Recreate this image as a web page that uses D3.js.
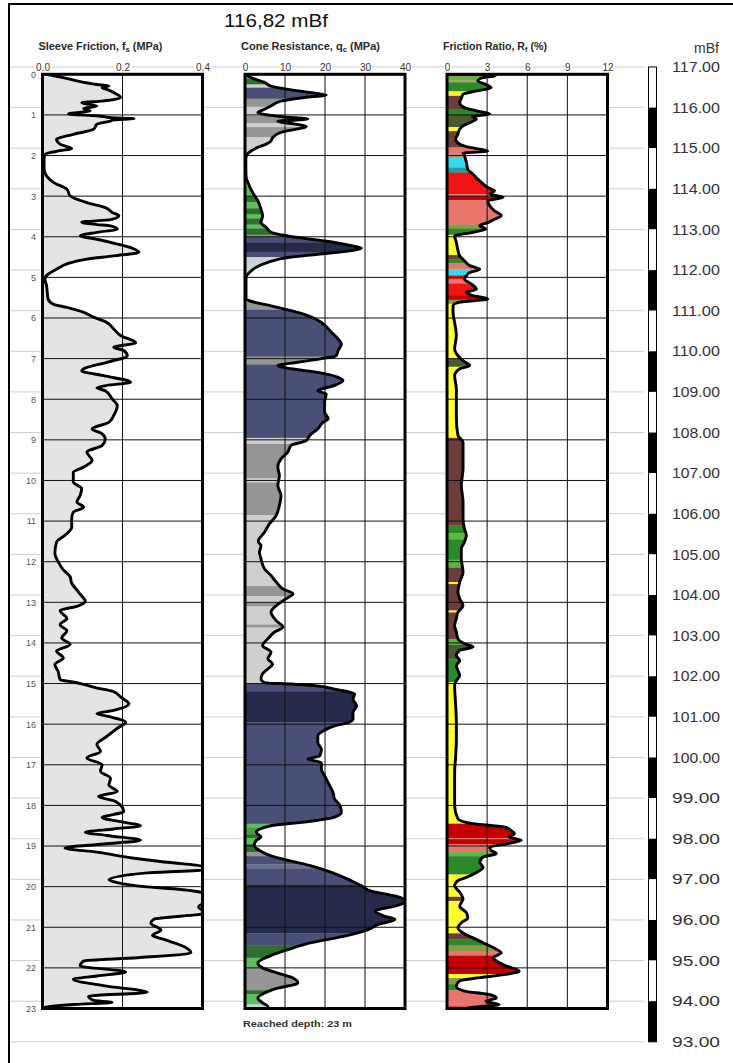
<!DOCTYPE html>
<html>
<head>
<meta charset="utf-8">
<script src="https://cdn.jsdelivr.net/npm/d3@7/dist/d3.min.js"></script>
<style>
  html, body { margin: 0; padding: 0; background: #fff; }
  svg { display: block; font-family: "Liberation Sans", Arial, sans-serif; }
</style>
</head>
<body>
<svg id="chart" width="733" height="1063"></svg>
<script>
// ---- CPT log data (depth in m, value) ----
const groundLevel = 116.82;
const maxDepth = 23;

const fsTicks = [0, 0.2, 0.4];
const qcTicks = [0, 10, 20, 30, 40];
const rfTicks = [0, 3, 6, 9, 12];
const depthTicks = d3.range(0, 24);
const elevTicks = d3.range(117, 92, -1);

// Sleeve friction fs (MPa)
const fsProfile = [
  [0,0.01],[0.08,0.052],[0.16,0.086],[0.25,0.136],[0.29,0.166],[0.33,0.149],[0.37,0.161],[0.45,0.178],
  [0.57,0.195],[0.66,0.149],[0.70,0.098],[0.78,0.136],[0.84,0.103],[0.90,0.119],[0.98,0.065],[1.02,0.136],
  [1.07,0.174],[1.09,0.229],[1.12,0.178],[1.15,0.170],[1.23,0.136],[1.35,0.128],[1.48,0.077],[1.60,0.035],
  [1.72,0.044],[1.83,0.073],[1.88,0.044],[1.97,0.006],[2.09,0.004],[2.34,0.004],[2.50,0.010],[2.66,0.027],
  [2.83,0.061],[2.99,0.069],[3.16,0.111],[3.28,0.157],[3.40,0.174],[3.48,0.191],[3.58,0.170],[3.64,0.098],
  [3.70,0.136],[3.73,0.170],[3.81,0.187],[3.89,0.136],[3.98,0.094],[4.06,0.136],[4.18,0.187],[4.30,0.229],
  [4.38,0.241],[4.47,0.178],[4.55,0.111],[4.67,0.061],[4.80,0.035],[4.92,0.014],[5.04,0.006],[5.20,0.010],
  [5.53,0.014],[5.66,0.027],[5.74,0.061],[5.86,0.103],[5.98,0.128],[6.11,0.161],[6.27,0.178],[6.43,0.195],
  [6.61,0.233],[6.72,0.178],[6.80,0.203],[6.93,0.212],[7.09,0.161],[7.25,0.103],[7.30,0.098],[7.42,0.153],
  [7.58,0.220],[7.66,0.161],[7.72,0.136],[7.79,0.157],[7.99,0.174],[8.16,0.187],[8.40,0.178],[8.57,0.166],
  [8.73,0.124],[8.85,0.149],[8.98,0.157],[9.14,0.149],[9.30,0.111],[9.51,0.124],[9.67,0.103],[9.80,0.077],
  [10.04,0.077],[10.20,0.098],[10.37,0.094],[10.53,0.086],[10.66,0.103],[10.78,0.077],[10.94,0.073],
  [11.15,0.073],[11.31,0.061],[11.52,0.035],[11.80,0.031],[12.00,0.039],[12.20,0.052],[12.37,0.069],
  [12.53,0.073],[12.70,0.086],[12.80,0.094],[12.97,0.107],[13.10,0.086],[13.20,0.044],[13.40,0.061],
  [13.55,0.044],[13.70,0.061],[13.88,0.048],[14.04,0.069],[14.20,0.035],[14.37,0.052],[14.53,0.031],
  [14.70,0.039],[14.90,0.044],[14.98,0.086],[15.10,0.132],[15.20,0.178],[15.33,0.195],[15.50,0.216],
  [15.66,0.178],[15.74,0.136],[15.83,0.174],[15.95,0.208],[16.10,0.187],[16.30,0.161],[16.50,0.136],
  [16.67,0.145],[16.83,0.111],[17.00,0.149],[17.16,0.145],[17.33,0.170],[17.50,0.166],[17.66,0.187],
  [17.78,0.140],[17.90,0.182],[18.15,0.203],[18.30,0.149],[18.40,0.195],[18.50,0.245],[18.58,0.178],
  [18.66,0.107],[18.74,0.161],[18.86,0.245],[18.95,0.153],[19.05,0.056],[19.15,0.136],[19.30,0.229],
  [19.40,0.313],[19.50,0.400],[19.58,0.410],[19.66,0.262],[19.83,0.166],[19.90,0.187],[20.00,0.254],
  [20.07,0.346],[20.15,0.400],[20.30,0.420],[20.50,0.390],[20.65,0.410],[20.80,0.279],[20.90,0.271],
  [21.07,0.296],[21.20,0.275],[21.30,0.304],[21.48,0.355],[21.63,0.371],[21.75,0.237],[21.83,0.103],
  [21.95,0.094],[22.10,0.208],[22.20,0.136],[22.28,0.077],[22.45,0.161],[22.60,0.262],[22.70,0.115],
  [22.80,0.128],[22.85,0.174],[22.90,0.080],[22.95,0.020],[23.00,0.000]
];

// Cone resistance qc (MPa)
const qcProfile = [
  [0,0.25],[0.08,1.5],[0.20,4.9],[0.29,6.5],[0.37,10.7],[0.45,16.6],[0.51,20.3],[0.57,14.9],[0.66,9.0],
  [0.78,6.5],[0.86,4.9],[0.94,3.2],[0.98,4.4],[1.05,9.9],[1.10,15.7],[1.16,8.2],[1.21,11.5],[1.29,15.3],
  [1.35,12.8],[1.43,9.0],[1.56,6.9],[1.64,6.5],[1.72,5.3],[1.80,3.2],[1.89,1.5],[1.97,0.5],[2.09,0.2],
  [2.50,0.25],[2.75,1.1],[2.91,1.9],[3.11,3.2],[3.32,4.0],[3.48,4.4],[3.65,4.0],[3.77,5.3],[3.89,6.5],
  [3.98,10.7],[4.06,16.6],[4.14,22.4],[4.22,26.6],[4.28,29.1],[4.34,26.6],[4.43,18.2],[4.51,10.7],
  [4.63,5.7],[4.75,2.8],[4.88,1.1],[5.00,0.25],[5.53,0.25],[5.61,2.3],[5.70,6.5],[5.82,11.5],[5.94,15.7],
  [6.11,19.1],[6.35,21.6],[6.52,23.3],[6.64,24.1],[6.80,23.3],[6.93,22.8],[7.00,19.1],[7.09,13.2],
  [7.17,8.2],[7.25,11.5],[7.34,18.2],[7.46,23.3],[7.54,24.5],[7.66,22.4],[7.79,18.2],[7.87,20.3],
  [8.07,19.9],[8.32,19.9],[8.48,20.8],[8.57,19.5],[8.73,18.2],[8.89,16.2],[9.02,15.3],[9.14,11.5],
  [9.30,10.7],[9.47,9.0],[9.67,8.2],[9.88,8.6],[10.12,8.2],[10.37,9.0],[10.61,8.6],[10.86,7.8],
  [11.07,6.1],[11.27,4.9],[11.50,3.3],[11.60,4.0],[11.77,3.6],[11.93,4.0],[12.18,4.9],[12.34,6.5],
  [12.50,7.8],[12.67,9.5],[12.79,12.0],[12.91,10.3],[13.08,7.8],[13.24,6.5],[13.45,7.8],[13.61,9.5],
  [13.73,7.4],[13.90,5.7],[14.06,4.4],[14.23,6.5],[14.39,5.7],[14.52,6.9],[14.64,5.7],[14.76,4.4],
  [14.89,4.0],[14.98,4.9],[15.01,11.5],[15.05,17.4],[15.14,22.4],[15.26,27.4],[15.38,27.0],[15.55,27.9],
  [15.71,27.0],[15.88,27.0],[15.96,25.8],[16.04,22.4],[16.17,19.5],[16.29,18.2],[16.45,18.2],[16.62,19.1],
  [16.78,18.7],[16.86,15.7],[16.95,19.1],[17.11,19.1],[17.27,19.9],[17.52,21.2],[17.68,22.0],[17.84,22.4],
  [18.00,23.7],[18.17,24.1],[18.29,22.4],[18.41,14.9],[18.50,6.5],[18.66,2.8],[18.78,4.0],[18.86,2.8],
  [18.99,2.3],[19.11,3.6],[19.24,6.5],[19.37,11.5],[19.49,16.6],[19.65,21.6],[19.82,25.8],[19.98,29.1],
  [20.11,31.6],[20.23,37.5],[20.36,40.4],[20.48,37.5],[20.60,32.5],[20.73,35.0],[20.81,37.5],[20.93,33.3],
  [21.06,30.8],[21.22,24.9],[21.38,16.6],[21.55,10.7],[21.71,6.1],[21.88,3.2],[22.00,4.4],[22.13,8.2],
  [22.25,12.0],[22.37,13.2],[22.50,8.2],[22.62,4.9],[22.74,3.2],[22.86,4.4],[22.95,5.7],[23.00,5.7]
];

// Friction ratio Rf (%)
const rfProfile = [
  [0,3.55],[0.04,3.6],[0.08,2.7],[0.16,2.3],[0.25,2.9],[0.33,3.3],[0.41,2.2],[0.49,1.2],[0.57,1.1],
  [0.70,0.95],[0.82,1.3],[0.90,2.2],[0.98,3.2],[1.04,1.9],[1.10,2.2],[1.19,1.7],[1.27,1.2],[1.35,0.95],
  [1.48,0.8],[1.60,0.65],[1.72,0.95],[1.80,1.7],[1.89,3.05],[1.94,1.2],[2.00,1.3],[2.17,1.45],[2.34,1.55],
  [2.46,1.95],[2.58,2.3],[2.70,2.7],[2.79,3.05],[2.87,3.55],[2.95,3.2],[3.03,4.2],[3.11,3.05],[3.24,3.2],
  [3.36,3.55],[3.48,4.05],[3.57,3.55],[3.65,3.05],[3.73,2.45],[3.81,2.9],[3.89,1.95],[3.98,0.57],
  [4.14,0.7],[4.34,0.82],[4.47,0.95],[4.59,1.3],[4.71,1.7],[4.80,2.45],[4.88,1.7],[4.96,1.45],[5.04,1.3],
  [5.16,1.8],[5.29,2.2],[5.37,1.45],[5.45,1.95],[5.53,3.05],[5.61,0.95],[5.70,0.45],[5.86,0.45],
  [6.11,0.57],[6.43,0.7],[6.76,0.57],[6.93,0.82],[7.05,1.2],[7.17,1.7],[7.25,0.95],[7.42,0.57],
  [7.75,0.7],[8.07,0.7],[8.48,0.7],[8.89,0.82],[9.06,1.2],[9.30,1.2],[9.71,1.2],[10.12,1.07],[10.53,1.2],
  [10.94,1.2],[11.19,1.3],[11.35,1.45],[11.52,1.3],[11.68,1.07],[11.93,1.07],[12.26,1.2],[12.50,0.95],
  [12.75,0.82],[12.91,0.95],[13.08,1.2],[13.24,0.82],[13.40,0.7],[13.57,0.57],[13.73,0.7],[13.90,0.82],
  [14.02,1.3],[14.10,1.95],[14.18,0.95],[14.31,0.7],[14.43,0.95],[14.56,0.7],[14.68,0.82],[14.80,0.95],
  [14.93,0.7],[15.05,0.57],[15.55,0.65],[15.96,0.7],[16.37,0.7],[16.78,0.65],[17.19,0.57],[17.60,0.57],
  [18.00,0.57],[18.33,0.82],[18.45,1.95],[18.54,4.4],[18.62,4.8],[18.70,5.05],[18.78,4.65],[18.86,5.55],
  [18.95,4.4],[19.03,3.2],[19.11,3.3],[19.19,3.7],[19.27,2.7],[19.40,2.45],[19.52,2.7],[19.65,2.2],
  [19.77,1.45],[19.85,0.82],[19.98,0.57],[20.14,0.95],[20.30,1.2],[20.48,0.95],[20.64,1.45],[20.77,1.55],
  [20.89,1.07],[21.01,0.82],[21.14,1.2],[21.26,1.95],[21.38,2.7],[21.50,3.45],[21.63,4.05],[21.75,3.45],
  [21.83,3.7],[21.95,4.4],[22.08,5.4],[22.16,4.4],[22.24,2.45],[22.32,0.95],[22.45,0.7],[22.57,1.3],
  [22.65,3.05],[22.74,3.7],[22.82,2.9],[22.90,3.9],[22.97,1.95],[23.00,1.5]
];

// Soil behaviour classes along depth: [top, bottom, class]
const qcLayers = [
  [0,0.1,"lgreen"],[0.1,0.25,"dgreen"],[0.25,0.33,"lgray"],[0.33,0.6,"slate"],[0.6,0.8,"gray"],
  [0.8,1.02,"lgray"],[1.02,1.2,"gray"],[1.2,1.3,"lgray"],[1.3,1.55,"gray"],[1.55,2.75,"lgray"],
  [2.75,3.0,"lgreen"],[3.0,3.15,"dgreen"],[3.15,3.3,"lgreen"],[3.3,3.45,"dgreen"],[3.45,3.55,"lgreen"],
  [3.55,3.7,"dgreen"],[3.7,3.8,"lgreen"],[3.8,3.95,"dgreen"],[3.95,4.0,"gray"],[4.0,4.15,"slate"],
  [4.15,4.37,"navy"],[4.37,4.5,"slate"],[4.5,4.62,"lgray"],[4.62,4.95,"pale"],[4.95,5.6,"lgray"],
  [5.6,5.8,"gray"],[5.8,6.95,"slate"],[6.95,7.15,"gray"],[7.15,8.95,"slate"],[8.95,9.1,"lgray"],
  [9.1,9.95,"gray"],[9.95,10.05,"lgray"],[10.05,10.85,"gray"],[10.85,12.6,"lgray"],[12.6,12.85,"gray"],
  [12.85,13.0,"lgray"],[13.0,13.1,"gray"],[13.1,13.55,"lgray"],[13.55,13.62,"gray"],[13.62,15.0,"lgray"],
  [15.0,15.2,"slate"],[15.2,15.95,"navy"],[15.95,18.45,"slate"],[18.45,18.55,"lgreen"],[18.55,18.72,"mgreen"],
  [18.72,18.8,"dgreen"],[18.8,18.95,"lgreen"],[18.95,19.15,"dgreen"],[19.15,19.25,"gray"],[19.25,19.45,"slate"],
  [19.45,19.55,"lslate"],[19.55,19.95,"slate"],[19.95,21.15,"navy"],[21.15,21.45,"slate"],[21.45,21.75,"dgreen"],
  [21.75,22.0,"lgreen"],[22.0,22.55,"gray"],[22.55,22.65,"dgreen"],[22.65,22.9,"lgreen"],[22.9,23.0,"pale"]
];

const rfLayers = [
  [0,0.05,"dred"],[0.05,0.15,"lgreen"],[0.15,0.2,"tan"],[0.2,0.42,"green"],[0.42,0.53,"yellow"],
  [0.53,0.85,"brown"],[0.85,1.0,"green"],[1.0,1.3,"dolive"],[1.3,1.4,"yellow"],[1.4,1.8,"brown"],
  [1.8,1.95,"salmon"],[1.95,2.05,"tan"],[2.05,2.3,"cyan"],[2.3,2.42,"teal"],[2.42,2.95,"red"],
  [2.95,3.0,"salmon"],[3.0,3.1,"dred"],[3.1,3.7,"salmon"],[3.7,3.8,"olive"],[3.8,3.95,"green"],
  [3.95,4.45,"yellow"],[4.45,4.55,"brown"],[4.55,4.65,"green"],[4.65,4.8,"salmon"],[4.8,4.95,"cyan"],
  [4.95,5.05,"red"],[5.05,5.15,"salmon"],[5.15,5.45,"red"],[5.45,5.55,"dred"],[5.55,5.65,"olive"],
  [5.65,7.0,"yellow"],[7.0,7.2,"dolive"],[7.2,8.95,"yellow"],[8.95,11.1,"brown"],[11.1,11.3,"green"],
  [11.3,11.45,"lgreen"],[11.45,11.95,"green"],[11.95,12.15,"lgreen"],[12.15,12.5,"brown"],[12.5,12.55,"yellow"],
  [12.55,13.2,"brown"],[13.2,13.25,"yellow"],[13.25,13.9,"brown"],[13.9,14.05,"lgreen"],[14.05,14.4,"dolive"],
  [14.4,14.97,"green"],[14.97,18.45,"yellow"],[18.45,18.8,"dred"],[18.8,18.83,"salmon"],[18.83,18.95,"dred"],
  [18.95,19.15,"salmon"],[19.15,19.25,"lgreen"],[19.25,19.7,"green"],[19.7,20.25,"yellow"],[20.25,20.35,"brown"],
  [20.35,21.15,"yellow"],[21.15,21.3,"brown"],[21.3,21.45,"green"],[21.45,21.6,"olive"],[21.6,21.7,"salmon"],
  [21.7,22.15,"dred"],[22.15,22.25,"yellow"],[22.25,22.4,"olive"],[22.4,22.55,"green"],[22.55,22.95,"salmon"],
  [22.95,23.0,"dred"]
];

// ---- styling ----
const qcColors = {
  lgreen: "#5cbf5c", mgreen: "#4a9a4a", dgreen: "#2e6e2e", slate: "#494f77", lslate: "#6a7090",
  navy: "#25294a", gray: "#959595", lgray: "#cfcfcf", pale: "#c4d8d8"
};
const rfColors = {
  dred: "#c40000", red: "#f01414", salmon: "#e8766c", green: "#2a8a2a", lgreen: "#5cb840",
  dolive: "#4a5a30", olive: "#8c9a48", yellow: "#ffff30", brown: "#6e3c3c", cyan: "#33dcec",
  teal: "#2a9aa8", tan: "#b89070"
};

const svg = d3.select("#chart");
const font = '"Liberation Sans", Arial, sans-serif';

// depth and elevation share one vertical scale
const y = d3.scaleLinear().domain([0, maxDepth]).range([74.3, 1008.5]);
const yElev = d3.scaleLinear().domain([groundLevel, groundLevel - maxDepth]).range(y.range());

// outer frame
svg.append("rect").attr("x", 9).attr("y", 4).attr("width", 740).attr("height", 1080)
  .attr("fill", "none").attr("stroke", "#000").attr("stroke-width", 2);

// elevation reference lines
svg.append("g").selectAll("line").data(elevTicks).join("line")
  .attr("x1", 10).attr("x2", 644)
  .attr("y1", d => yElev(d)).attr("y2", d => yElev(d))
  .attr("stroke", "#cdcdcd").attr("stroke-width", 1);

// title
svg.append("text").attr("x", 224).attr("y", 27).attr("font-family", font)
  .attr("font-size", 19).attr("fill", "#111")
  .attr("textLength", 104).attr("lengthAdjust", "spacingAndGlyphs")
  .text("116,82 mBf");

const panels = [
  { id: "fs", x0: 42.5, x1: 202.5, domain: [0, 0.4], ticks: fsTicks, fmt: d3.format(".1f"),
    data: fsProfile, title: ["Sleeve Friction, f", "s", " (MPa)"], titleW: 124 },
  { id: "qc", x0: 245, x1: 405, domain: [0, 40], ticks: qcTicks, fmt: d3.format("d"),
    data: qcProfile, layers: qcLayers, colors: qcColors, title: ["Cone Resistance, q", "c", " (MPa)"], titleW: 139 },
  { id: "rf", x0: 447, x1: 607.5, domain: [0, 12], ticks: rfTicks, fmt: d3.format("d"),
    data: rfProfile, layers: rfLayers, colors: rfColors, title: ["Friction Ratio, R", "f", " (%)"], titleW: 104 }
];

const defs = svg.append("defs");

panels.forEach(p => {
  const x = d3.scaleLinear().domain(p.domain).range([p.x0, p.x1]);
  const top = y(0), bot = y(maxDepth);

  // header title with subscript
  const t = svg.append("text").attr("x", p.x0 - 4).attr("y", 49.5)
    .attr("font-family", font).attr("font-size", 10).attr("font-weight", "bold").attr("fill", "#2a2a2a")
    .attr("textLength", p.titleW).attr("lengthAdjust", "spacingAndGlyphs");
  t.append("tspan").text(p.title[0]);
  t.append("tspan").attr("font-size", 7).attr("dy", 2).text(p.title[1]);
  t.append("tspan").attr("dy", -2).text(p.title[2]);

  // value axis above the panel
  const ax = svg.append("g").attr("transform", `translate(0,70.5)`)
    .call(d3.axisTop(x).tickValues(p.ticks).tickFormat(p.fmt).tickSize(0).tickPadding(0));
  ax.select(".domain").remove();
  ax.selectAll("text").attr("font-family", font).attr("font-size", 10).attr("fill", "#333")
    .attr("stroke", "#fff").attr("stroke-width", 3).attr("paint-order", "stroke");

  // panel background
  svg.append("rect").attr("x", p.x0).attr("y", top).attr("width", p.x1 - p.x0).attr("height", bot - top)
    .attr("fill", "#fff");

  defs.append("clipPath").attr("id", "clip-" + p.id)
    .append("rect").attr("x", p.x0).attr("y", top).attr("width", p.x1 - p.x0).attr("height", bot - top);

  const g = svg.append("g").attr("clip-path", `url(#clip-${p.id})`);

  const area = d3.area().curve(d3.curveMonotoneY)
    .y(d => y(d[0])).x0(x(0)).x1(d => x(d[1]));
  const line = d3.line().curve(d3.curveMonotoneY)
    .y(d => y(d[0])).x(d => x(d[1]));

  if (p.layers) {
    // coloured classification bands shown under the curve only
    defs.append("clipPath").attr("id", "area-" + p.id)
      .append("path").attr("d", area(p.data));
    g.append("g").attr("clip-path", `url(#area-${p.id})`)
      .selectAll("rect").data(p.layers).join("rect")
      .attr("x", p.x0).attr("width", p.x1 - p.x0)
      .attr("y", d => y(d[0])).attr("height", d => y(d[1]) - y(d[0]) + 0.3)
      .attr("fill", d => p.colors[d[2]]);
  } else {
    g.append("path").attr("d", area(p.data)).attr("fill", "#e4e4e4");
  }

  // grid
  g.append("g").selectAll("line").data(depthTicks.slice(1, -1)).join("line")
    .attr("x1", p.x0).attr("x2", p.x1).attr("y1", d => y(d)).attr("y2", d => y(d))
    .attr("stroke", "#111").attr("stroke-width", 1);
  g.append("g").selectAll("line").data(p.ticks.slice(1, -1)).join("line")
    .attr("y1", top).attr("y2", bot).attr("x1", d => x(d)).attr("x2", d => x(d))
    .attr("stroke", "#111").attr("stroke-width", 1);

  // measured curve
  g.append("path").attr("d", line(p.data)).attr("fill", "none")
    .attr("stroke", "#000").attr("stroke-width", 2.9).attr("stroke-linejoin", "round");

  // border
  svg.append("rect").attr("x", p.x0).attr("y", top).attr("width", p.x1 - p.x0).attr("height", bot - top)
    .attr("fill", "none").attr("stroke", "#000").attr("stroke-width", 3);
});

// depth axis
const dAx = svg.append("g").attr("transform", "translate(36,0)")
  .call(d3.axisLeft(y).tickValues(depthTicks).tickFormat(d3.format("d")).tickSize(0).tickPadding(0));
dAx.select(".domain").remove();
dAx.selectAll("text").attr("font-family", font).attr("font-size", 9).attr("fill", "#555");

// elevation scale bar
const segs = d3.range(117, 93, -1);
svg.append("g").selectAll("rect").data(segs).join("rect")
  .attr("x", 648.5).attr("width", 8)
  .attr("y", d => yElev(d)).attr("height", d => yElev(d - 1) - yElev(d))
  .attr("fill", (d, i) => i % 2 ? "#000" : "#fff");
svg.append("rect").attr("x", 648.5).attr("width", 8)
  .attr("y", yElev(117)).attr("height", yElev(93) - yElev(117))
  .attr("fill", "none").attr("stroke", "#000").attr("stroke-width", 1);

const eAx = svg.append("g").attr("transform", "translate(720,0)")
  .call(d3.axisRight(yElev).tickValues(elevTicks).tickFormat(d3.format(".2f")).tickSize(0).tickPadding(0));
eAx.select(".domain").remove();
eAx.selectAll("text").attr("font-family", font).attr("font-size", 14.5).attr("fill", "#333")
  .attr("text-anchor", "end").attr("textLength", 48).attr("lengthAdjust", "spacingAndGlyphs");

svg.append("text").attr("x", 719).attr("y", 53).attr("text-anchor", "end")
  .attr("font-family", font).attr("font-size", 14).attr("fill", "#333")
  .text("mBf");

// footer
svg.append("text").attr("x", 243).attr("y", 1027).attr("font-family", font)
  .attr("font-size", 9.5).attr("font-weight", "bold").attr("fill", "#333")
  .attr("textLength", 109).attr("lengthAdjust", "spacingAndGlyphs")
  .text("Reached depth: 23 m");
</script>
</body>
</html>
